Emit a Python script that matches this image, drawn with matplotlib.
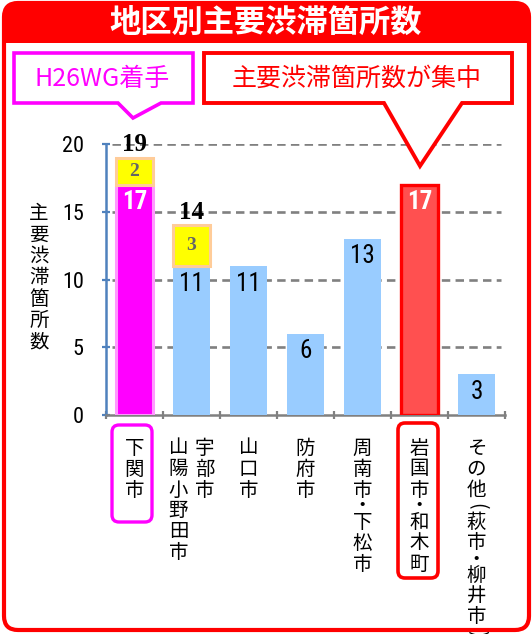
import numpy as np
import matplotlib
matplotlib.use('Agg')
import matplotlib.pyplot as plt
from matplotlib import font_manager
from matplotlib.font_manager import FontProperties
from matplotlib.patches import FancyBboxPatch, Rectangle, Polygon
from matplotlib.transforms import Affine2D

# data
label_columns = [['下関市'], ['宇部市', '山陽小野田市'], ['山口市'], ['防府市'],
                 ['周南市・下松市'], ['岩国市・和木町'], ['その他（萩市・柳井市）']]
base_counts = [17, 11, 11, 6, 13, 17, 3]
h26_counts = [2, 3, 0, 0, 0, 0, 0]
bar_kinds = ['wg', 'normal', 'normal', 'normal', 'normal', 'focus', 'normal']
y_ticks = [0, 5, 10, 15, 20]
title = '地区別主要渋滞箇所数'
ylabel = '主要渋滞箇所数'
note_wg = 'H26WG着手'
note_focus = '主要渋滞箇所数が集中'

JP = 'Noto Sans CJK JP'
SERIF = 'Liberation Serif'


def pick_narrow(weight):
    # look for a narrow / condensed sans face, the chart uses one for digits
    prefs = ['Liberation Sans Narrow', 'Roboto Condensed', 'Noto Sans', 'Open Sans',
             'DejaVu Sans', 'Lato', 'Inter', 'Roboto']
    best, best_score = None, None
    for f in font_manager.fontManager.ttflist:
        stretch = str(f.stretch)
        narrow = 'Narrow' in f.name or 'Condensed' in f.name or 'condensed' in stretch
        if not narrow or f.style != 'normal':
            continue
        try:
            if abs(int(f.weight) - weight) > 100:
                continue
        except (TypeError, ValueError):
            continue
        rank = next((i for i, p in enumerate(prefs) if f.name.startswith(p)), len(prefs))
        score = (rank, 0 if stretch == 'condensed' else 1, abs(int(f.weight) - weight))
        if best_score is None or score < best_score:
            best, best_score = f, score
    if best is None:
        return FontProperties(family='Liberation Sans', weight=weight)
    return FontProperties(fname=best.fname)


NARROW = pick_narrow(400)
NARROW_B = pick_narrow(700)

W, H = 532, 634
fig = plt.figure(figsize=(W / 100, H / 100), dpi=100)
# pixel coords, origin top-left
T = Affine2D().scale(1, -1).translate(0, H)

RED = '#ff0000'
MAG = '#ff00ff'
BLUE = '#99ccff'

# ---- frame and title band
fig.add_artist(FancyBboxPatch((4, 3), 525, 60, boxstyle='round,pad=0,rounding_size=14',
                              facecolor=RED, edgecolor='none', transform=T, zorder=-3))
fig.add_artist(Rectangle((6, 43), 521, 30, facecolor='white', edgecolor='none',
                         transform=T, zorder=-2))
fig.add_artist(FancyBboxPatch((4, 3), 525, 627, boxstyle='round,pad=0,rounding_size=14',
                              facecolor='none', edgecolor=RED, linewidth=3, transform=T, zorder=-1))
fig.text(266 / W, 1 - 23 / H, title, family=JP, fontsize=22.5, fontweight='bold',
         color='white', ha='center', va='center')

# ---- callouts
wg_pts = [(14, 53), (193, 53), (193, 103), (161, 103), (133, 118), (118, 103), (14, 103)]
fig.add_artist(Polygon(wg_pts, closed=True, facecolor='white', edgecolor=MAG,
                       linewidth=2.6, transform=T, zorder=5))
fig.text(102 / W, 1 - 79 / H, note_wg, family=JP, fontsize=18, color=MAG,
         ha='center', va='center', zorder=6)
fc_pts = [(204, 53), (512, 53), (512, 103), (462, 103), (420, 166), (384, 103), (204, 103)]
fig.add_artist(Polygon(fc_pts, closed=True, facecolor='white', edgecolor=RED,
                       linewidth=2.8, transform=T, zorder=5))
fig.text(357 / W, 1 - 79 / H, note_focus, family=JP, fontsize=18, color=RED,
         ha='center', va='center', zorder=6)

# ---- axes
ax = fig.add_axes([106 / W, 1 - 415 / H, (505 - 106) / W, (415 - 144) / H])
ax.set_facecolor('none')
x = np.arange(len(base_counts))

face = {'wg': MAG, 'normal': BLUE, 'focus': '#ff5050'}
edge = {'wg': '#ff99ff', 'normal': BLUE, 'focus': RED}
lw = {'wg': 2.2, 'normal': 0.0, 'focus': 2.4}
ax.bar(x, base_counts, width=0.64,
       color=[face[k] for k in bar_kinds],
       edgecolor=[edge[k] for k in bar_kinds],
       linewidth=[lw[k] for k in bar_kinds], zorder=3)

h26 = np.array(h26_counts)
m = h26 > 0
ax.bar(x[m], h26[m], bottom=np.array(base_counts)[m], width=0.64,
       color='#ffff00', edgecolor='#ffcc99', linewidth=2.2, zorder=3)

for i, (b, k) in enumerate(zip(base_counts, bar_kinds)):
    hot = k in ('wg', 'focus')
    ax.annotate(str(b), xy=(i, b), xytext=(0, -4), textcoords='offset points',
                ha='center', va='top', fontproperties=NARROW_B if hot else NARROW,
                fontsize=18, color='white' if hot else 'black', zorder=4)
    if h26_counts[i]:
        ax.annotate(str(h26_counts[i]), xy=(i, b + h26_counts[i] / 2), ha='center', va='center',
                    family=SERIF, fontsize=14, fontweight='bold', color='#666666', zorder=4)
        ax.annotate(str(b + h26_counts[i]), xy=(i, b + h26_counts[i]), xytext=(0, 1),
                    textcoords='offset points', ha='center', va='bottom',
                    family=SERIF, fontsize=18, fontweight='bold', color='black', zorder=4)

ax.set_xlim(-0.5, len(base_counts) - 0.5)
ax.set_ylim(0, 20)
ax.set_yticks(y_ticks)
ax.set_yticklabels([str(t) for t in y_ticks], fontproperties=NARROW, fontsize=16)
ax.set_xticks(np.arange(len(base_counts) + 1) - 0.5)
ax.set_xticklabels([])
ax.tick_params(axis='y', direction='inout', length=6, width=1.6, colors='#4f81bd',
               labelcolor='black', pad=13)
ax.tick_params(axis='x', direction='inout', length=6, width=1.6, colors='#808080')

for s in ('top', 'right'):
    ax.spines[s].set_visible(False)
ax.spines['left'].set_color('#4f81bd')
ax.spines['left'].set_linewidth(1.8)
ax.spines['bottom'].set_color('#808080')
ax.spines['bottom'].set_linewidth(1.8)

for t in y_ticks[1:]:
    ax.axhline(t, xmin=0.015, xmax=0.99, color='#808080', linewidth=1.9,
               linestyle=(0, (3.2, 2.0)), zorder=1)

# ---- vertical category labels (one glyph per cell, columns read right to left)
xt = ax.get_xaxis_transform()
PX = 0.72
SHORT = '・（）'
for i, cols in enumerate(label_columns):
    n = len(cols)
    for c, col in enumerate(cols):
        dx = (-(c - (n - 1) / 2)) * 26 * PX
        y = 33.0
        prev = None
        for ch in col:
            if prev is not None:
                y += 16.0 if (ch in SHORT or prev in SHORT) else 21.0
            prev = ch
            rot = 0
            glyph = ch
            if ch in '（）':
                glyph = '(' if ch == '（' else ')'
                rot = -90
            ax.annotate(glyph, xy=(i, 0), xycoords=xt, xytext=(dx, -y * PX),
                        textcoords='offset points', ha='center', va='center',
                        rotation=rot, family=JP, fontsize=14, color='black',
                        annotation_clip=False)

fig.add_artist(FancyBboxPatch((112, 425), 40, 97, boxstyle='round,pad=0,rounding_size=7',
                              facecolor='none', edgecolor=MAG, linewidth=2.4, transform=T))
fig.add_artist(FancyBboxPatch((398, 423), 40, 155, boxstyle='round,pad=0,rounding_size=7',
                              facecolor='none', edgecolor=RED, linewidth=2.6, transform=T))

# ---- y label, stacked
for k, ch in enumerate(ylabel):
    fig.text(39 / W, 1 - (214 + k * 21.3) / H, ch, family=JP, fontsize=14,
             ha='center', va='center')

fig.savefig('out.png', dpi=100)
